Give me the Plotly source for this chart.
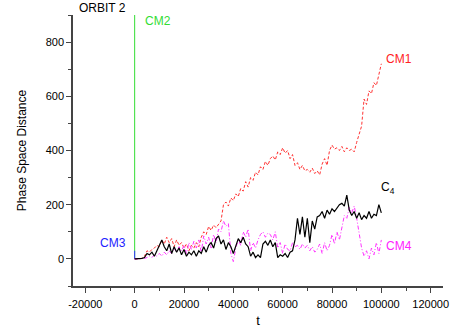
import plotly.graph_objects as go

t = list(range(0, 101000, 1000))

cm1 = [0, 0, 0, 3, 10,
       30, 25, 35, 40, 50,
       45, 70, 55, 80, 60,
       75, 45, 70, 50, 60,
       40, 55, 30, 50, 40,
       60, 45, 80, 100, 90,
       120, 105, 125, 115, 130,
       140, 200, 210, 195, 225,
       215, 240, 230, 260, 250,
       285, 265, 300, 290, 320,
       310, 340, 330, 360, 345,
       370, 380, 365, 395, 385,
       410, 390, 400, 370, 385,
       345, 355, 330, 345, 325,
       330, 320, 335, 315, 325,
       310, 350, 370, 345, 400,
       420, 405, 410, 400, 415,
       395, 410, 400, 405, 395,
       430, 460, 490, 590, 570,
       620, 610, 650, 640, 680,
       720]

c4 = [0, 0, 0, 2, 5,
      20, 15, 25, 10, 30,
      55, 70, 45, 30, 55,
      20, 45, 25, 40, 15,
      35, 10, 25, 15, 30,
      10, 30, 20, 45, 25,
      50, 60, 40, 75, 85,
      55, 70, 35, 60, 45,
      20, 50, 75, 60, 80,
      55, 45, 10, 25, 5,
      15, 5, 55, 65, 50,
      70, 45, 60, 5, 15,
      10, 20, 5, 25, 30,
      70, 150, 90, 155, 80,
      150, 60, 140, 110, 155,
      160, 175, 150, 180, 165,
      185, 175, 190, 200, 205,
      195, 235, 180, 160, 175,
      150, 170, 145, 160, 150,
      175, 150, 165, 160, 200,
      170]

cm4 = [0, 0, 0, 0, 2,
       5, 10, 5, 15, 10,
       20, 10, 25, 15, 30,
       20, 40, 25, 45, 30,
       50, 20, 60, 35, 65,
       40, 70, 25, 85, 55,
       80, 40, 90, 60, 110,
       100, 140, 120, 130, 20,
       -10, 40, 70, 50, 100,
       80, 110, 30, 60, 40,
       70, 90, 100, 80, 95,
       90, 70, 100, 40, 60,
       20, 55, 35, 30, 60,
       45, 50, 35, 55, 40,
       50, 30, 45, 25, 35,
       55, 20, 60, 30, 50,
       90, 55, 100, 70, 120,
       160, 150, 190, 170, 195,
       150, 100, 40, 10, 30,
       0, 40, 15, 60, 20,
       70]

cm2_t = [0, 0]
cm2_y = [0, 2000]
cm3_t = [0, 0, 1000]
cm3_y = [30, 0, 0]

fig = go.Figure()
fig.add_trace(go.Scatter(x=cm2_t, y=cm2_y, mode="lines", line=dict(color="#33dd33", width=1)))
fig.add_trace(go.Scatter(x=cm3_t, y=cm3_y, mode="lines", line=dict(color="#3333ff", width=1)))
fig.add_trace(go.Scatter(x=t, y=cm1, mode="lines", line=dict(color="#ff3333", width=1, dash="3px,2px")))
fig.add_trace(go.Scatter(x=t, y=cm4, mode="lines", line=dict(color="#ff33ff", width=1, dash="4px,2px,1px,2px")))
fig.add_trace(go.Scatter(x=t, y=c4, mode="lines", line=dict(color="black", width=1.2)))

font = dict(family="Liberation Sans, Arial, sans-serif", size=11, color="black")

fig.update_layout(
    width=456, height=335,
    margin=dict(l=73, r=13, t=15, b=49, autoexpand=False),
    plot_bgcolor="white", paper_bgcolor="white",
    showlegend=False,
    font=font,
    xaxis=dict(range=[-25000, 125000], tickvals=[-20000, 0, 20000, 40000, 60000, 80000, 100000, 120000],
               ticktext=["-20000", "0", "20000", "40000", "60000", "80000", "100000", "120000"],
               showgrid=False, zeroline=False, showline=True, linecolor="#444", linewidth=1.5,
               ticks="outside", ticklen=5, tickcolor="#444", tickwidth=1, ticklabelstandoff=2,
               automargin=False,
               minor=dict(dtick=10000, tick0=0, ticks="outside", ticklen=3, tickcolor="#444"),
               title=dict(text="t", font=dict(size=13), standoff=7)),
    yaxis=dict(range=[-100, 900], tickvals=[0, 200, 400, 600, 800],
               showgrid=False, zeroline=False, showline=True, linecolor="#444", linewidth=1.5,
               ticks="outside", ticklen=5, tickcolor="#444", tickwidth=1,
               automargin=False,
               minor=dict(dtick=100, tick0=-100, ticks="outside", ticklen=3, tickcolor="#444"),
               title=dict(text="Phase Space Distance", font=dict(size=12), standoff=16)),
)

ann = [
    dict(text="ORBIT 2", xref="paper", yref="paper", x=0.081, y=1.026, color="black"),
    dict(text="CM2", xref="x", yref="y", x=9400, y=878, color="#33dd33"),
    dict(text="CM1", xref="x", yref="y", x=107000, y=737, color="#ff2222"),
    dict(text="C<sub>4</sub>", xref="x", yref="y", x=102500, y=263, color="black"),
    dict(text="CM4", xref="x", yref="y", x=107300, y=48, color="#ff22ff"),
    dict(text="CM3", xref="x", yref="y", x=-8600, y=59, color="#2222ff"),
]
for a in ann:
    fig.add_annotation(text=a["text"], xref=a["xref"], yref=a["yref"], x=a["x"], y=a["y"],
                       xanchor="center", yanchor="middle",
                       showarrow=False, font=dict(family="Liberation Sans, Arial, sans-serif", size=12, color=a["color"]))

fig.write_html("out.html")
